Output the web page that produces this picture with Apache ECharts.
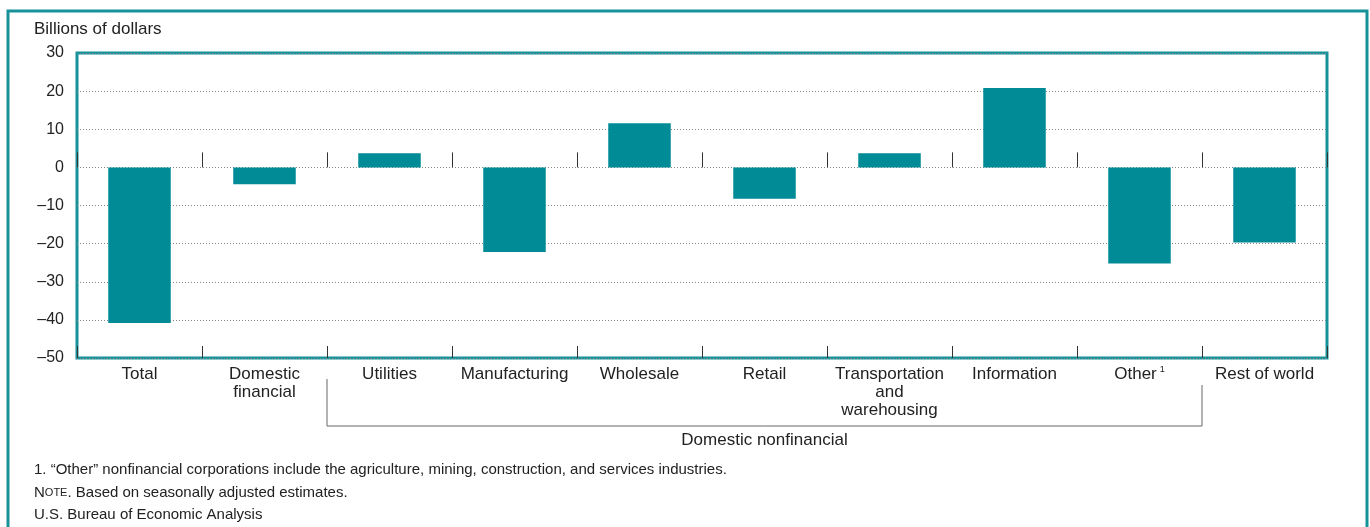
<!DOCTYPE html>
<html>
<head>
<meta charset="utf-8">
<script src="https://cdn.jsdelivr.net/npm/echarts@6/dist/echarts.min.js"></script>
<style>
  html, body { margin: 0; padding: 0; background: #fff; }
  #main { width: 1370px; height: 527px; }
</style>
</head>
<body>
<div id="main"></div>
<script>
// data
var categories = ["Total", "Domestic\nfinancial", "Utilities", "Manufacturing", "Wholesale",
  "Retail", "Transportation\nand\nwarehousing", "Information", "Other", "Rest of world"];
var changes = [-40.8, -4.4, 3.7, -22.2, 11.6, -8.2, 3.7, 20.8, -25.2, -19.7];
var yTicks = { min: -50, max: 30, step: 10 };
var bracketFrom = "Utilities", bracketTo = "Other";
var bracketLabel = "Domestic nonfinancial";
var footnotes = [
  "1. \u201cOther\u201d nonfinancial corporations include the agriculture, mining, construction, and services industries.",
  "{b|N}{s|OTE}. Based on seasonally adjusted estimates.",
  "U.S. Bureau of Economic Analysis"
];

var teal = "#008b96";
var frame = "#17929a";
var font = "Liberation Sans, Arial, sans-serif";

var chartDom = document.getElementById("main");
var myChart = echarts.init(chartDom);

var option = {
  animation: false,
  textStyle: { fontFamily: font },
  grid: {
    left: 77, top: 53, width: 1250, height: 305,
    show: true, borderColor: frame, borderWidth: 3, backgroundColor: "transparent"
  },
  xAxis: [
    {
      type: "category",
      data: categories,
      axisLine: { show: false, onZero: false },
      axisTick: { show: true, inside: true, length: 12, lineStyle: { color: "#333" } },
      axisLabel: {
        interval: 0, color: "#222", fontSize: 17, lineHeight: 18, margin: 7,
        formatter: function (v) { return v === "Other" ? "Other{sup|1}" : v; },
        rich: { sup: { fontSize: 9, verticalAlign: "top", padding: [0, 0, 7, 3], color: "#222" } }
      }
    },
    {
      type: "category",
      data: categories,
      position: "bottom",
      axisLine: { show: false, onZero: true },
      axisTick: { show: true, inside: true, length: 15, lineStyle: { color: "#333" } },
      axisLabel: { show: false }
    }
  ],
  yAxis: {
    type: "value",
    min: yTicks.min, max: yTicks.max, interval: yTicks.step,
    axisLine: { show: false },
    axisTick: { show: false },
    axisLabel: {
      color: "#222", fontSize: 16, margin: 13,
      formatter: function (v) { return v < 0 ? "\u2013" + Math.abs(v) : String(v); }
    },
    splitLine: { lineStyle: { color: "#888", type: [1, 2], width: 1 } }
  },
  series: [
    {
      type: "bar",
      xAxisIndex: 0,
      data: changes,
      barWidth: "50%",
      itemStyle: { color: teal }
    }
  ],
  graphic: []
};

myChart.setOption(option);

// bracket under the domestic nonfinancial categories
var half = 1250 / categories.length / 2;
var xa = myChart.convertToPixel({ xAxisIndex: 0 }, bracketFrom) - half;
var xb = myChart.convertToPixel({ xAxisIndex: 0 }, bracketTo) + half;
var gfx = [
  { type: "rect", shape: { x: 8, y: 11, width: 1359, height: 560 },
    style: { fill: "none", stroke: frame, lineWidth: 3 }, silent: true },
  { type: "polyline", shape: { points: [[xa, 379], [xa, 426], [xb, 426], [xb, 385]] },
    style: { fill: "none", stroke: "#666", lineWidth: 1 }, silent: true },
  { type: "text", x: (xa + xb) / 2, y: 440,
    style: { text: bracketLabel, fill: "#222", font: "17px " + font, align: "center", verticalAlign: "middle" } },
  { type: "text", x: 34, y: 29,
    style: { text: "Billions of dollars", fill: "#222", font: "17px " + font, verticalAlign: "middle" } }
];
footnotes.forEach(function (t, i) {
  gfx.push({ type: "text", x: 34, y: 470 + i * 22.5,
    style: { text: t, fill: "#222", font: "15px " + font, verticalAlign: "middle",
      rich: { b: { fontSize: 15, fill: "#222" }, s: { fontSize: 11, fill: "#222" } } } });
});
myChart.setOption({ graphic: gfx });
</script>
</body>
</html>
